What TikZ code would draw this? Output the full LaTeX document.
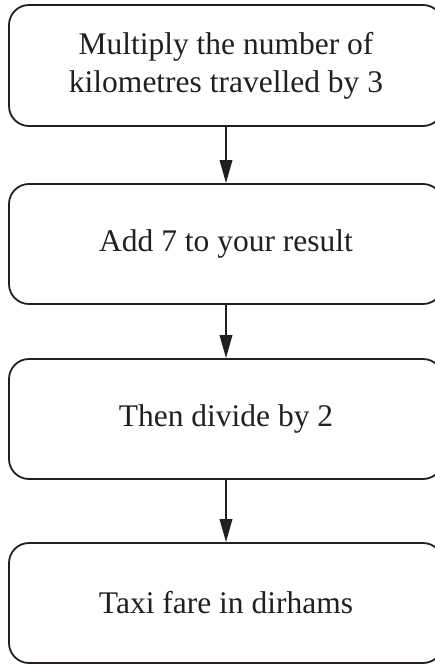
\documentclass[tikz,border=0pt]{standalone}
\usepackage{fontspec}
\setmainfont{Liberation Serif}
\usetikzlibrary{arrows.meta}
\definecolor{ink}{HTML}{231F20}
\begin{document}
\begin{tikzpicture}[x=1pt,y=-1pt,
  stepbox/.style={draw=ink, line width=1.8pt, rounded corners=20pt,
    minimum width=434pt, inner sep=0pt, align=center, text=ink,
    font=\fontsize{31.5}{38}\selectfont},
  flow/.style={draw=ink, line width=1.8pt, -{Triangle[length=23pt,width=12.5pt]}}]
\useasboundingbox (0,0) rectangle (434,664);
\node[stepbox, minimum height=121pt] (b1) at (226,65.5) {Multiply the number of\\kilometres travelled by 3};
\node[stepbox, minimum height=120pt] (b2) at (226,244) {Add 7 to your result};
\node[stepbox, minimum height=120pt] (b3) at (226,419) {Then divide by 2};
\node[stepbox, minimum height=120pt] (b4) at (226,603) {Taxi fare in dirhams};
\draw[flow] (b1.south) -- (b2.north);
\draw[flow] (b2.south) -- (b3.north);
\draw[flow] (b3.south) -- (b4.north);
\end{tikzpicture}
\end{document}
